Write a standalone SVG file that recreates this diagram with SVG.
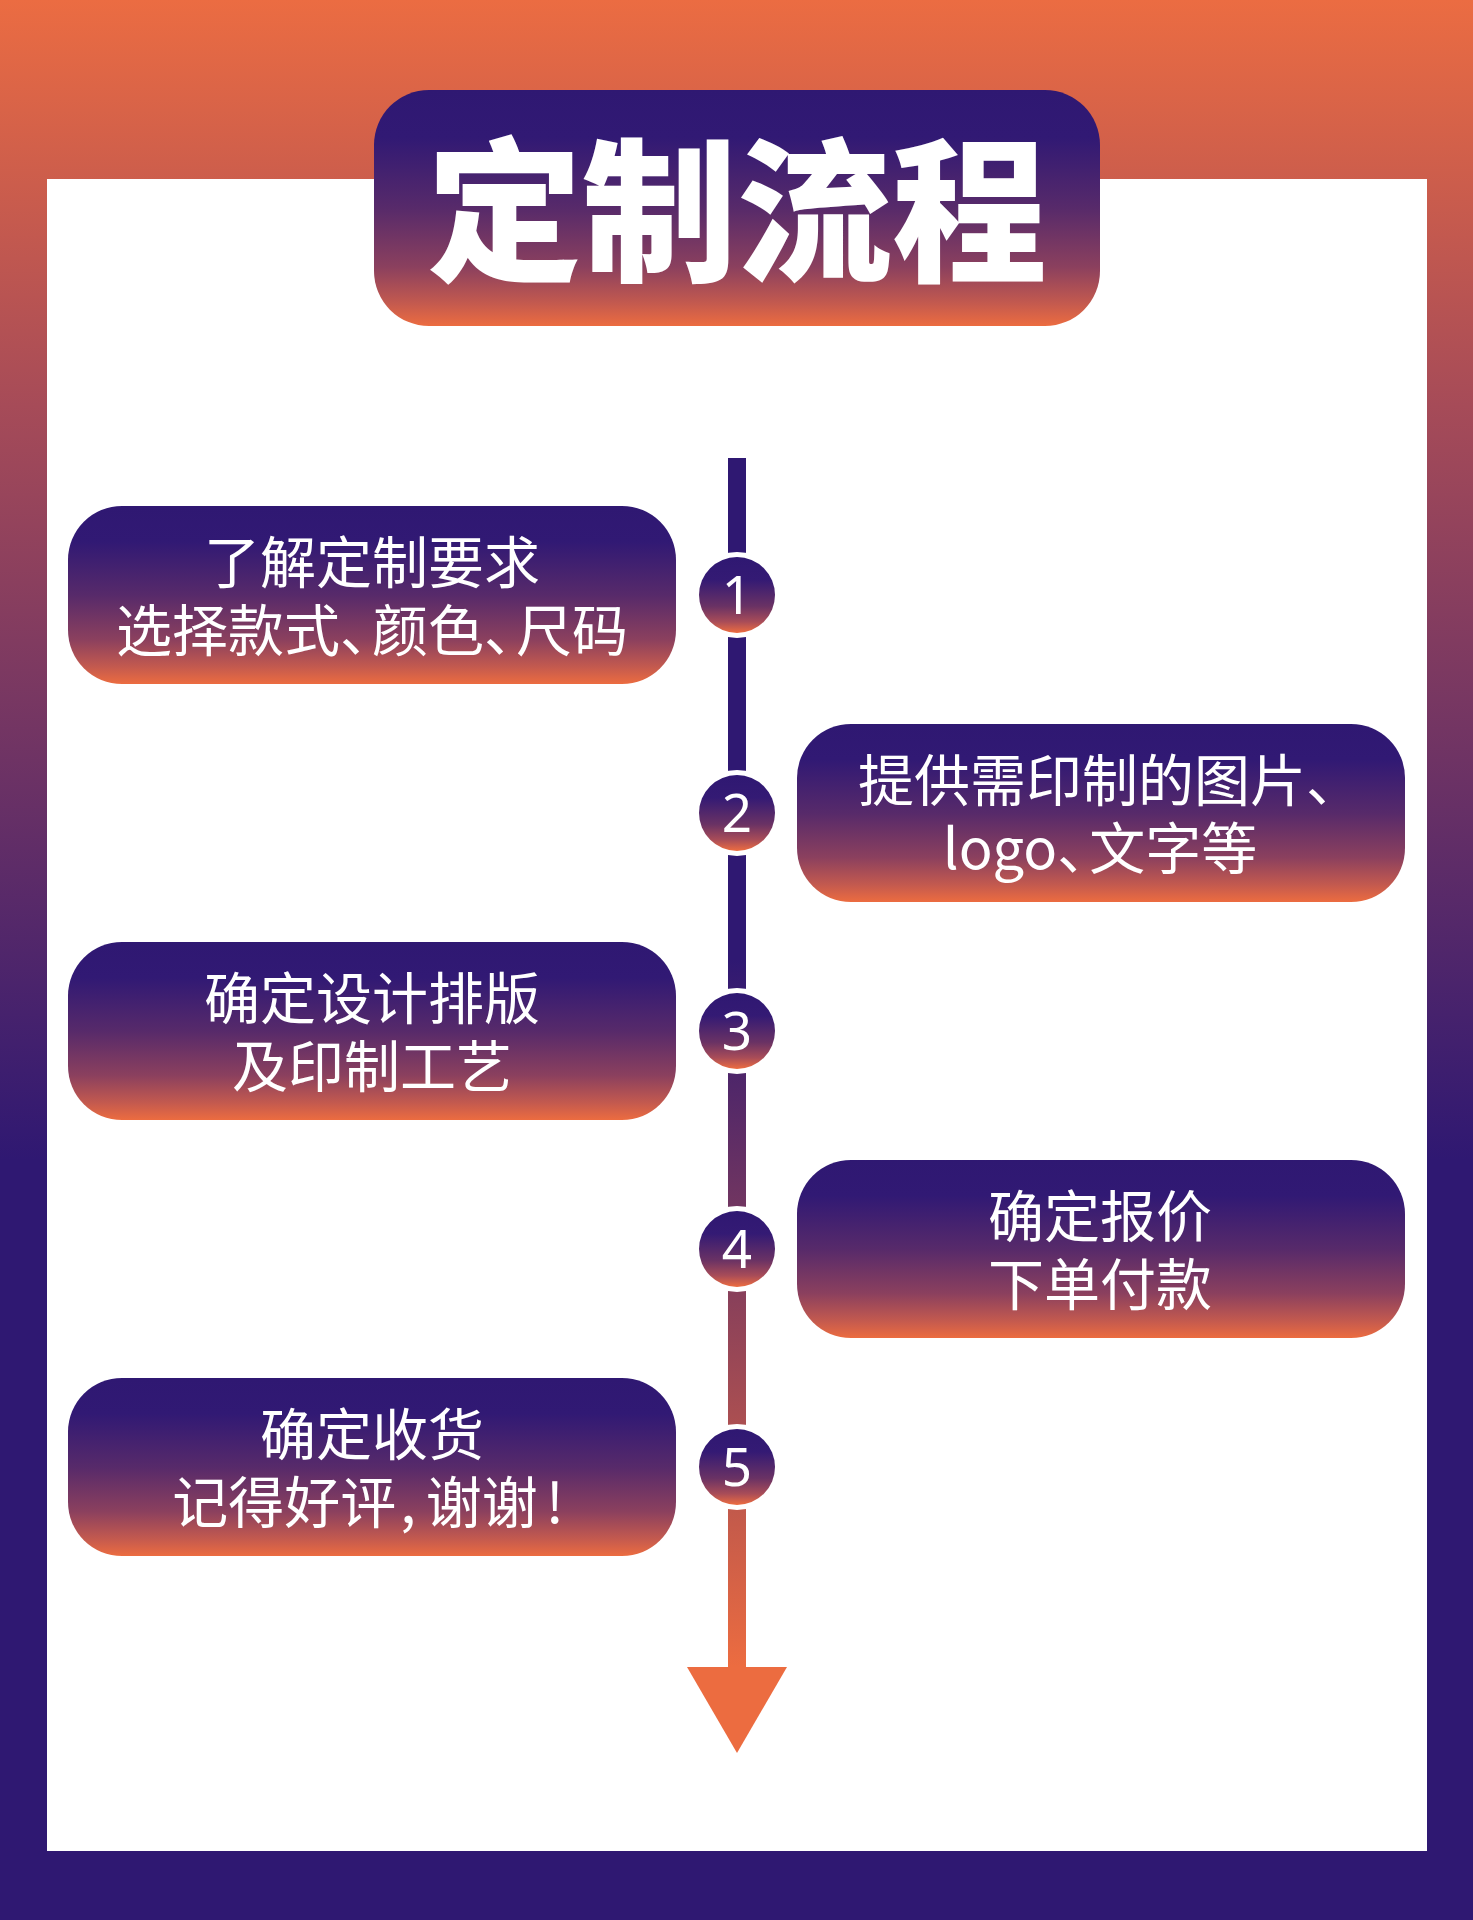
<svg xmlns="http://www.w3.org/2000/svg" width="1473" height="1920" viewBox="0 0 1473 1920">
<defs>
<linearGradient id="bg" gradientUnits="userSpaceOnUse" x1="0" y1="0" x2="0" y2="1160">
<stop offset="0" stop-color="#EB6C42"/>
<stop offset="0.35" stop-color="#A64B58"/>
<stop offset="1" stop-color="#2F1872"/>
</linearGradient>
<linearGradient id="boxg" x1="0" y1="0" x2="0" y2="1">
<stop offset="0" stop-color="#2F1872"/>
<stop offset="0.2" stop-color="#311974"/>
<stop offset="0.5" stop-color="#572A6A"/>
<stop offset="0.75" stop-color="#8B405E"/>
<stop offset="0.9" stop-color="#C2594F"/>
<stop offset="1" stop-color="#EC6C40"/>
</linearGradient>
<linearGradient id="circg" x1="0" y1="0" x2="0" y2="1">
<stop offset="0" stop-color="#2F1872"/>
<stop offset="0.3" stop-color="#341A74"/>
<stop offset="0.65" stop-color="#6A3264"/>
<stop offset="0.85" stop-color="#A84C58"/>
<stop offset="1" stop-color="#EE6D40"/>
</linearGradient>
<linearGradient id="lineg" gradientUnits="userSpaceOnUse" x1="0" y1="458" x2="0" y2="1667">
<stop offset="0" stop-color="#2F1872"/>
<stop offset="0.415" stop-color="#2F1872"/>
<stop offset="1" stop-color="#EC6C40"/>
</linearGradient>
</defs>
<style>
.box{fill:url(#boxg)}
.t{font-family:"Noto Sans CJK SC","Noto Sans",sans-serif;font-size:56px;fill:#fff;text-anchor:middle}
.ring{fill:#fff}
.circ{fill:url(#circg)}
.num{font-family:"Noto Sans","Open Sans",sans-serif;font-size:53px;fill:#fff;text-anchor:middle}
</style>
<rect x="0" y="0" width="1473" height="1920" fill="url(#bg)"/>
<rect x="47" y="179" width="1380" height="1672" fill="#fff"/>
<g id="title">
<rect x="374" y="90" width="726" height="236" rx="55" ry="55" class="box"/>
<text x="737" y="269" font-family="'Noto Sans CJK SC',sans-serif" font-size="155" font-weight="900" fill="#fff" text-anchor="middle">定制流程</text>
</g>
<g id="connectors">
<rect x="728" y="458" width="18" height="1212" fill="url(#lineg)"/>
<polygon points="687,1667 787,1667 737,1753" fill="#EC6C40"/>
</g>
<g id="step1">
<rect x="68" y="506" width="608" height="178" rx="54" class="box"/>
<text class="t" x="372" y="583">了解定制要求</text>
<text class="t" x="372" y="651">选择款式、<tspan dx="-24">颜色、</tspan><tspan dx="-24">尺码</tspan></text>
<circle cx="737" cy="595" r="43" class="ring"/>
<circle cx="737" cy="595" r="38" class="circ"/>
<text class="num" x="737" y="614">1</text>
</g>
<g id="step2">
<rect x="797" y="724" width="608" height="178" rx="54" class="box"/>
<text class="t" x="1110" y="801">提供需印制的图片、</text>
<text class="t" x="1100" y="869">logo、<tspan dx="-24">文字等</tspan></text>
<circle cx="737" cy="813" r="43" class="ring"/>
<circle cx="737" cy="813" r="38" class="circ"/>
<text class="num" x="737" y="832">2</text>
</g>
<g id="step3">
<rect x="68" y="942" width="608" height="178" rx="54" class="box"/>
<text class="t" x="372" y="1019">确定设计排版</text>
<text class="t" x="372" y="1087">及印制工艺</text>
<circle cx="737" cy="1031" r="43" class="ring"/>
<circle cx="737" cy="1031" r="38" class="circ"/>
<text class="num" x="737" y="1050">3</text>
</g>
<g id="step4">
<rect x="797" y="1160" width="608" height="178" rx="54" class="box"/>
<text class="t" x="1100" y="1237">确定报价</text>
<text class="t" x="1100" y="1305">下单付款</text>
<circle cx="737" cy="1249" r="43" class="ring"/>
<circle cx="737" cy="1249" r="38" class="circ"/>
<text class="num" x="737" y="1268">4</text>
</g>
<g id="step5">
<rect x="68" y="1378" width="608" height="178" rx="54" class="box"/>
<text class="t" x="372" y="1455">确定收货</text>
<text class="t" x="368" y="1523">记得好评<tspan dx="4">,</tspan><tspan dx="10">谢谢</tspan><tspan dx="8">!</tspan></text>
<circle cx="737" cy="1467" r="43" class="ring"/>
<circle cx="737" cy="1467" r="38" class="circ"/>
<text class="num" x="737" y="1486">5</text>
</g>
</svg>
